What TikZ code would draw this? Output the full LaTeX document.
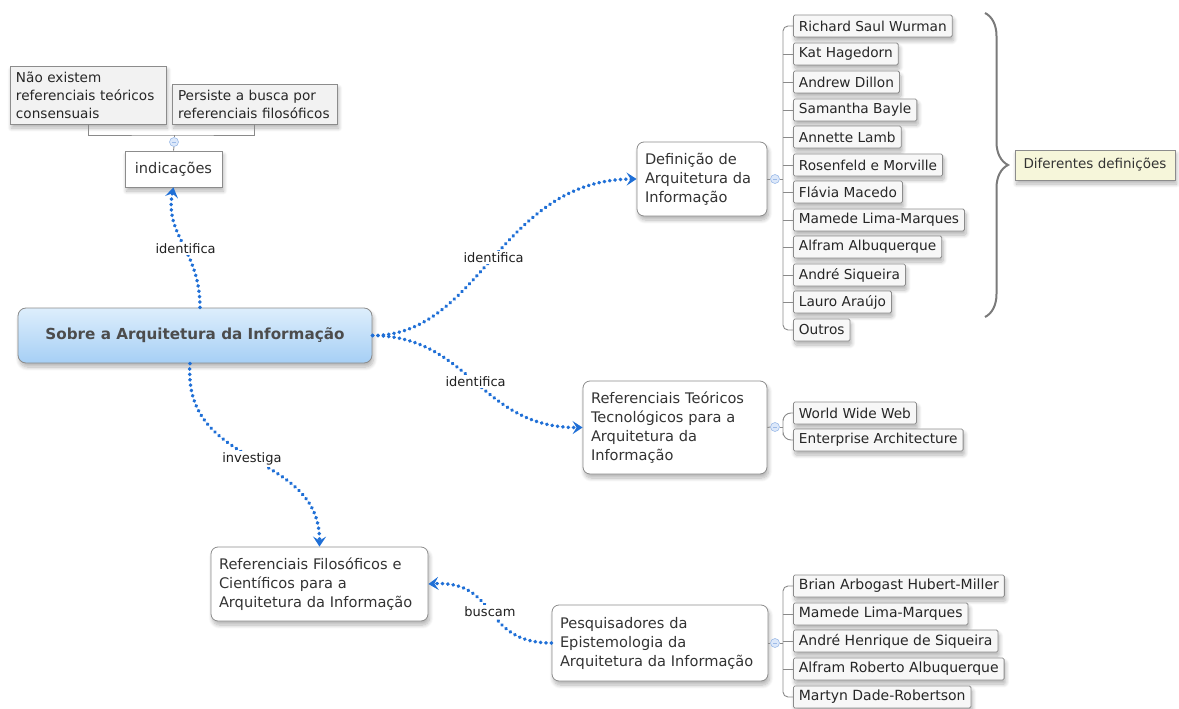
\documentclass[tikz,border=0pt]{standalone}
\usepackage{fontspec}
\setmainfont{DejaVu Sans}
\usetikzlibrary{arrows.meta,shadows,shadows.blur,decorations.pathreplacing,calc}

\definecolor{linkblue}{HTML}{1F6FD6}
\definecolor{textgray}{HTML}{333333}
\definecolor{framegray}{HTML}{8C8C8C}
\definecolor{branchgray}{HTML}{8A8A8A}
\definecolor{topicblueA}{HTML}{DDEEFC}
\definecolor{topicblueB}{HTML}{A6CFF5}
\definecolor{notefill}{HTML}{F2F2F2}
\definecolor{calloutfill}{HTML}{F6F6DA}
\definecolor{togglefill}{HTML}{DCE8FA}
\definecolor{toggledraw}{HTML}{9DBBE8}
\definecolor{bracegray}{HTML}{7A7A7A}

\begin{document}
\begin{tikzpicture}[x=1pt,y=-1pt,
  softshadow/.style={blur shadow={shadow xshift=1.5pt,shadow yshift=-4pt,
    shadow blur radius=4pt,shadow blur steps=8,shadow opacity=30}},
  topic/.style={draw=framegray,fill=white,rounded corners=7pt,line width=0.8pt,
    align=left,text=textgray,font=\fontsize{14.6}{19}\selectfont,
    inner xsep=8pt,inner ysep=0pt,softshadow},
  mainbox/.style={draw=framegray,rounded corners=8pt,line width=0.8pt,
    top color=topicblueA,bottom color=topicblueB,text=black!70,
    font=\fontsize{15.2}{18}\selectfont\bfseries,
    minimum width=354pt,minimum height=55pt,softshadow},
  plainbox/.style={draw=framegray,fill=white,line width=0.8pt,text=textgray,
    font=\fontsize{14.6}{18}\selectfont,minimum width=97pt,minimum height=36pt,softshadow},
  note/.style={draw=framegray,fill=notefill,line width=0.8pt,align=left,
    text=black!85,font=\fontsize{13.6}{18}\selectfont,inner xsep=6pt,inner ysep=0pt,softshadow},
  item/.style={draw=framegray,fill=gray!6,rounded corners=1.5pt,line width=0.8pt,
    anchor=west,minimum height=22pt,inner xsep=5.5pt,inner ysep=0pt,
    text=black!85,font=\fontsize{13.7}{15}\selectfont,softshadow},
  itemwide/.style={item,font=\fontsize{14}{16}\selectfont},
  callout/.style={draw=framegray,fill=calloutfill,line width=0.8pt,text=textgray,
    font=\fontsize{13.5}{16}\selectfont,minimum width=160pt,minimum height=30pt,softshadow},
  toggle/.style={circle,draw=toggledraw,fill=togglefill,line width=0.6pt,
    minimum size=9pt,inner sep=0pt,
    path picture={\draw[toggledraw,line width=0.8pt]
      ([xshift=-2.2pt]path picture bounding box.center) --
      ([xshift=2.2pt]path picture bounding box.center);}},
  branch/.style={draw=branchgray,line width=0.9pt},
  link/.style={draw=linkblue,line width=3.6pt,line cap=round,dash pattern=on 0.4pt off 5pt,
    -{Stealth[length=10pt,width=13pt,inset=4pt]}},
  lab/.style={fill=white,inner sep=1.5pt,text=black!88,font=\fontsize{13}{15}\selectfont}
]
\useasboundingbox (0,0) rectangle (1179,709);

% ---------- notes above "indicações"
\node[note,text width=144pt,minimum height=58pt] (n1) at (88,95)
  {Não existem\\referenciais teóricos\\consensuais};
\node[note,text width=153pt,minimum height=40pt] (n2) at (254.5,104)
  {Persiste a busca por\\referenciais filosóficos};
\node[plainbox] (ind) at (173.5,169) {indicações};
\node[toggle] (t0) at (174,142) {};
\coordinate (jb) at (174,135);
\draw[branch] (n1.south) |- (jb) -| (n2.south);
\draw[branch] (jb) -- (t0.north);
\draw[branch] (t0.south) -- (ind.north);

% ---------- central topic
\node[mainbox] (main) at (195,335.5) {Sobre a Arquitetura da Informação};

% ---------- main branches
\node[topic,text width=114pt,minimum height=74pt] (def) at (702,179)
  {Definição de\\Arquitetura da\\Informação};
\node[topic,text width=168pt,minimum height=93pt] (teo) at (675,427.5)
  {Referenciais Teóricos\\Tecnológicos para a\\Arquitetura da\\Informação};
\node[topic,text width=201pt,minimum height=74pt] (fil) at (319.5,584)
  {Referenciais Filosóficos e\\Científicos para a\\Arquitetura da Informação};
\node[topic,text width=200pt,minimum height=76pt] (pes) at (660,643)
  {Pesquisadores da\\Epistemologia da\\Arquitetura da Informação};

% ---------- definitions list
\node[item] (r1)  at (793,26)  {Richard Saul Wurman};
\node[item] (r2)  at (793,54)  {Kat Hagedorn};
\node[item] (r3)  at (793,82)  {Andrew Dillon};
\node[item] (r4)  at (793,110) {Samantha Bayle};
\node[item] (r5)  at (793,137) {Annette Lamb};
\node[item] (r6)  at (793,165) {Rosenfeld e Morville};
\node[item] (r7)  at (793,192) {Flávia Macedo};
\node[item] (r8)  at (793,220) {Mamede Lima-Marques};
\node[item] (r9)  at (793,247) {Alfram Albuquerque};
\node[item] (r10) at (793,275) {André Siqueira};
\node[item] (r11) at (793,302) {Lauro Araújo};
\node[item] (r12) at (793,330) {Outros};
\node[toggle] (t1) at (775,179) {};
\coordinate (sp1) at (783,179);
\draw[branch] (def.east) -- (t1.west);
\draw[branch] (t1.east) -- (sp1);
\draw[branch,rounded corners=5pt] (r1.west) -| (sp1) |- (r12.west);
\foreach \i in {2,...,11} \draw[branch] (r\i.west) -- (r\i.west -| sp1);

% ---------- brace and callout
\draw[bracegray,line width=2pt,decorate,
  decoration={brace,amplitude=23pt,aspect=0.5}] (985,13) -- (985,317);
\node[callout] (dif) at (1095,165) {Diferentes definições};

% ---------- technological references
\node[item] (w1) at (793,413) {World Wide Web};
\node[item] (w2) at (793,440) {Enterprise Architecture};
\node[toggle] (t2) at (775,427) {};
\coordinate (sp2) at (783,427);
\draw[branch] (teo.east) -- (t2.west);
\draw[branch] (t2.east) -- (sp2);
\draw[branch,rounded corners=8pt] (w1.west) -| (sp2) |- (w2.west);

% ---------- researchers
\node[itemwide] (p1) at (793,586) {Brian Arbogast Hubert-Miller};
\node[itemwide] (p2) at (793,614) {Mamede Lima-Marques};
\node[itemwide] (p3) at (793,641) {André Henrique de Siqueira};
\node[itemwide] (p4) at (793,669) {Alfram Roberto Albuquerque};
\node[itemwide] (p5) at (793,697) {Martyn Dade-Robertson};
\node[toggle] (t3) at (775,643) {};
\coordinate (sp3) at (783,643);
\draw[branch] (pes.east) -- (t3.west);
\draw[branch] (t3.east) -- (sp3);
\draw[branch,rounded corners=5pt] (p1.west) -| (sp3) |- (p5.west);
\foreach \i in {2,3,4} \draw[branch] (p\i.west) -- (p\i.west -| sp3);

% ---------- dotted relationships
\draw[link] ($(main.north)+(5,0)$) .. controls (200,250) and (164,235) .. (ind.south)
  node[lab,pos=0.45] {identifica};
\draw[link] (main.east) .. controls (480,336) and (500,180) .. (def.west)
  node[lab,pos=0.5] {identifica};
\draw[link] (main.east) .. controls (470,336) and (480,428) .. (teo.west)
  node[lab,pos=0.5] {identifica};
\draw[link] ($(main.south)+(-5,0)$) .. controls (182,470) and (320,450) .. (fil.north)
  node[lab,pos=0.5] {investiga};
\draw[link] (pes.west) .. controls (480,643) and (500,580) .. (fil.east)
  node[lab,pos=0.5] {buscam};
\end{tikzpicture}
\end{document}
